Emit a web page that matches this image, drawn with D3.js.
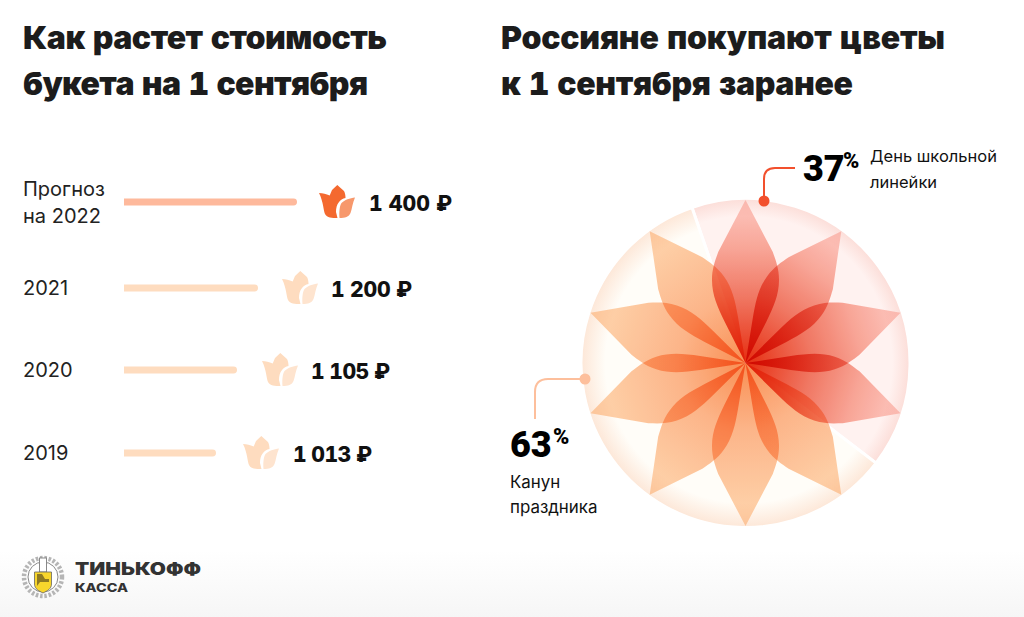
<!DOCTYPE html>
<html><head><meta charset="utf-8">
<script src="https://cdn.jsdelivr.net/npm/d3@7/dist/d3.min.js"></script>
<style>html,body{margin:0;background:#fff}svg{display:block}</style></head>
<body><div id="c"></div>
<script>
const barYears = ["Прогноз|на 2022","2021","2020","2019"];
const barValues = [1400,1200,1105,1013];
const priceLabels = ["1 400 ₽","1 200 ₽","1 105 ₽","1 013 ₽"];
const shares = [37,63];
const shareLabels = [["День школьной","линейки"],["Канун","праздника"]];
const sectorDegrees = [-19,127.5,341];
const petalDegrees = [0,36,72,108,144,180,216,252,288,324];
const redPetals = [0,36,72,108];
const titles = [["Как растет стоимость","букета на 1 сентября"],["Россияне покупают цветы","к 1 сентября заранее"]];

const W=1024,H=617;
const svg=d3.select("#c").append("svg").attr("width",W).attr("height",H);
const defs=svg.append("defs");
const FONT="Inter, 'Noto Sans', sans-serif";
const titleWidths=[[364,345],[444,352]];
const priceWidths=[83,81,79,79];

const fg=defs.append("linearGradient").attr("id","foot").attr("x1",0).attr("x2",0).attr("y1",0).attr("y2",1);
fg.append("stop").attr("offset",0).attr("stop-color","#fff");
fg.append("stop").attr("offset",1).attr("stop-color","#f6f6f6");
svg.append("rect").attr("x",0).attr("y",550).attr("width",W).attr("height",67).attr("fill","url(#foot)");

titles.forEach((t,i)=>t.forEach((s,j)=>svg.append("text").attr("x",i?501:23).attr("y",49+j*46)
  .attr("font-family",FONT).attr("font-weight",900).attr("font-size",32).attr("fill","#1c1c1c")
  .attr("textLength",titleWidths[i][j]).attr("lengthAdjust","spacing")
  .style("font-variant-numeric","tabular-nums").text(s)));

const rowY=d3.scaleOrdinal().domain(barValues).range([202,288,370,453]);
const x=d3.scaleLinear().domain([1013,1105,1200,1400]).range([216,237,258,297]);
const xTulip=d3.scaleLinear().domain([1013,1105,1200,1400]).range([243,262,282,319]);
const xPrice=d3.scaleLinear().domain([1013,1105,1200,1400]).range([293,311,331,369]);
const x0=124;
const tulipMain="M18.3,0 L25,6 C26,8 26.5,10 26.5,13 C21,14 17,19 17,27 L18.5,33 C13,33 8,33 6,29 C4.5,26 4.5,17 0,8 C4,8 7,9 10.7,10.5 L13,5Z";
const tulipSide="M36,12.5 C31,13 25.5,15 22.5,18 C20.5,21 20,27 20.5,33 C26,33 30,32 31.5,28 C33,24 33.5,18 36,12.5Z";
barValues.forEach((v,i)=>{
  const y=rowY(v),r=3.4,xe=x(v);
  svg.append("path").attr("fill",i?"#fedcbf":"#feb99c")
    .attr("d",`M${x0},${y-r}H${xe-r}A${r},${r} 0 0 1 ${xe-r},${y+r}H${x0}Z`);
  const g=svg.append("g").attr("transform",`translate(${xTulip(v)},${y-17})`);
  g.append("path").attr("d",tulipMain).attr("fill",i?"#fedcbf":"#f4692f");
  g.append("path").attr("d",tulipSide).attr("fill",i?"#fee4cf":"#f7986c");
  svg.append("text").attr("x",xPrice(v)).attr("y",y+8.5).attr("font-family",FONT).attr("font-weight",800)
    .attr("font-size",21.2).attr("fill","#111").attr("textLength",priceWidths[i]).attr("lengthAdjust","spacing")
    .style("font-variant-numeric","tabular-nums").text(priceLabels[i]);
  const lines=barYears[i].split("|");
  const ly=i?y+7:196;
  lines.forEach((s,j)=>svg.append("text").attr("x",23).attr("y",ly+j*27).attr("font-family",FONT)
    .attr("font-size",20).attr("fill","#222").text(s));
});

const cx=745.5,cy=363,R=163;
const flower=svg.append("g").attr("transform",`translate(${cx},${cy})`).style("isolation","isolate");
const grad=(id,stops)=>{const g=defs.append("radialGradient").attr("id",id).attr("gradientUnits","userSpaceOnUse").attr("cx",0).attr("cy",0).attr("r",R);
  stops.forEach(s=>g.append("stop").attr("offset",s[0]).attr("stop-color",s[1]));};
grad("rimPink",[[0,"#fff2f0"],[.9,"#fff2f0"],[1,"#fcdfda"]]);
grad("rimCream",[[0,"#fffdf8"],[.86,"#fffdf8"],[1,"#fde8d9"]]);
const toRad=d=>d*Math.PI/180;
const arc=d3.arc().innerRadius(0).outerRadius(R+1.5);
flower.selectAll("path.sector").data(shares).join("path").attr("class","sector")
  .attr("d",(d,i)=>arc({startAngle:toRad(sectorDegrees[i]),endAngle:toRad(sectorDegrees[i+1])}))
  .attr("fill",(d,i)=>i?"url(#rimCream)":"url(#rimPink)").attr("stroke","#fff").attr("stroke-width",3);
const lin=(id,stops)=>{const g=defs.append("linearGradient").attr("id",id).attr("gradientUnits","userSpaceOnUse").attr("x1",0).attr("y1",0).attr("x2",0).attr("y2",-R);
  stops.forEach(s=>g.append("stop").attr("offset",s[0]).attr("stop-color",s[1]));};
lin("pRed",[[0,"#e62f10"],[.4,"#f07d68"],[.7,"#f8aea0"],[1,"#fdd2cc"]]);
lin("pOr",[[0,"#f98f55"],[.4,"#fcb68c"],[1,"#fed8b4"]]);
const petal="M0,0 L-20.7,-41 C-28,-56 -33.5,-68 -33.5,-83 C-33.5,-95 -30,-103 -27.3,-111 L0,-163 L27.3,-111 C30,-103 33.5,-95 33.5,-83 C33.5,-68 28,-56 20.7,-41Z";
flower.selectAll("path.petal").data(petalDegrees).join("path").attr("class","petal")
  .attr("d",petal).attr("transform",d=>`rotate(${d})`)
  .attr("fill",d=>redPetals.includes(d)?"url(#pRed)":"url(#pOr)")
  .style("mix-blend-mode","multiply");

svg.append("path").attr("d","M764,201V179Q764,168 775,168H795").attr("fill","none").attr("stroke","#f2502d").attr("stroke-width",2);
svg.append("circle").attr("cx",764).attr("cy",201).attr("r",5.5).attr("fill","#f2502d");
svg.append("path").attr("d","M535,419V392Q535,379 548,379H585").attr("fill","none").attr("stroke","#fdbf9c").attr("stroke-width",2);
svg.append("circle").attr("cx",585).attr("cy",379).attr("r",5.5).attr("fill","#fdbf9c");
const big=(xx,yy,n,px)=>{
  svg.append("text").attr("x",xx).attr("y",yy).attr("font-family","Roboto, Inter, sans-serif").attr("font-weight",900).attr("font-size",36).attr("fill","#000").text(n);
  svg.append("text").attr("x",px).attr("y",yy-13).attr("font-family","Roboto, Inter, sans-serif").attr("font-weight",900).attr("font-size",22).attr("fill","#000").text("%");
};
big(803,181,shares[0],843);
big(510,457,shares[1],553);
shareLabels[0].forEach((s,j)=>svg.append("text").attr("x",870).attr("y",162+j*26).attr("font-family",FONT).attr("font-size",16.5).attr("fill","#111").text(s));
shareLabels[1].forEach((s,j)=>svg.append("text").attr("x",510).attr("y",488+j*25).attr("font-family",FONT).attr("font-size",16.9).attr("fill","#111").text(s));

const logo=svg.append("g").attr("transform","translate(43,577)");
logo.append("circle").attr("r",19).attr("fill","none").attr("stroke","#b5b5b5").attr("stroke-width",4.5).attr("stroke-dasharray","2.5 1.8");
logo.append("circle").attr("r",15).attr("fill","#fff").attr("stroke","#8a8a8a").attr("stroke-width",1);
logo.append("rect").attr("x",-3.5).attr("y",-19).attr("width",7).attr("height",14).attr("fill","#fff").attr("stroke","#888").attr("stroke-width",1);
logo.append("path").attr("d","M-8.5,-5H8.5V7C8.5,12 4,14 0,16C-4,14 -8.5,12 -8.5,7Z").attr("fill","#f8d62c").attr("stroke","#666").attr("stroke-width",.8);
logo.append("path").attr("d","M-6,-3L-1,-3L2,2L6,2L6,5L-3,5L-6,9Z").attr("fill","#6b5a20").attr("opacity",.75);
svg.append("text").attr("x",75).attr("y",575).attr("font-family",FONT).attr("font-weight",900).attr("font-size",17).attr("fill","#333").attr("textLength",126).attr("lengthAdjust","spacingAndGlyphs").text("ТИНЬКОФФ");
svg.append("text").attr("x",75).attr("y",592).attr("font-family",FONT).attr("font-weight",800).attr("font-size",12).attr("fill","#333").attr("textLength",53).attr("lengthAdjust","spacingAndGlyphs").text("КАССА");
</script></body></html>
